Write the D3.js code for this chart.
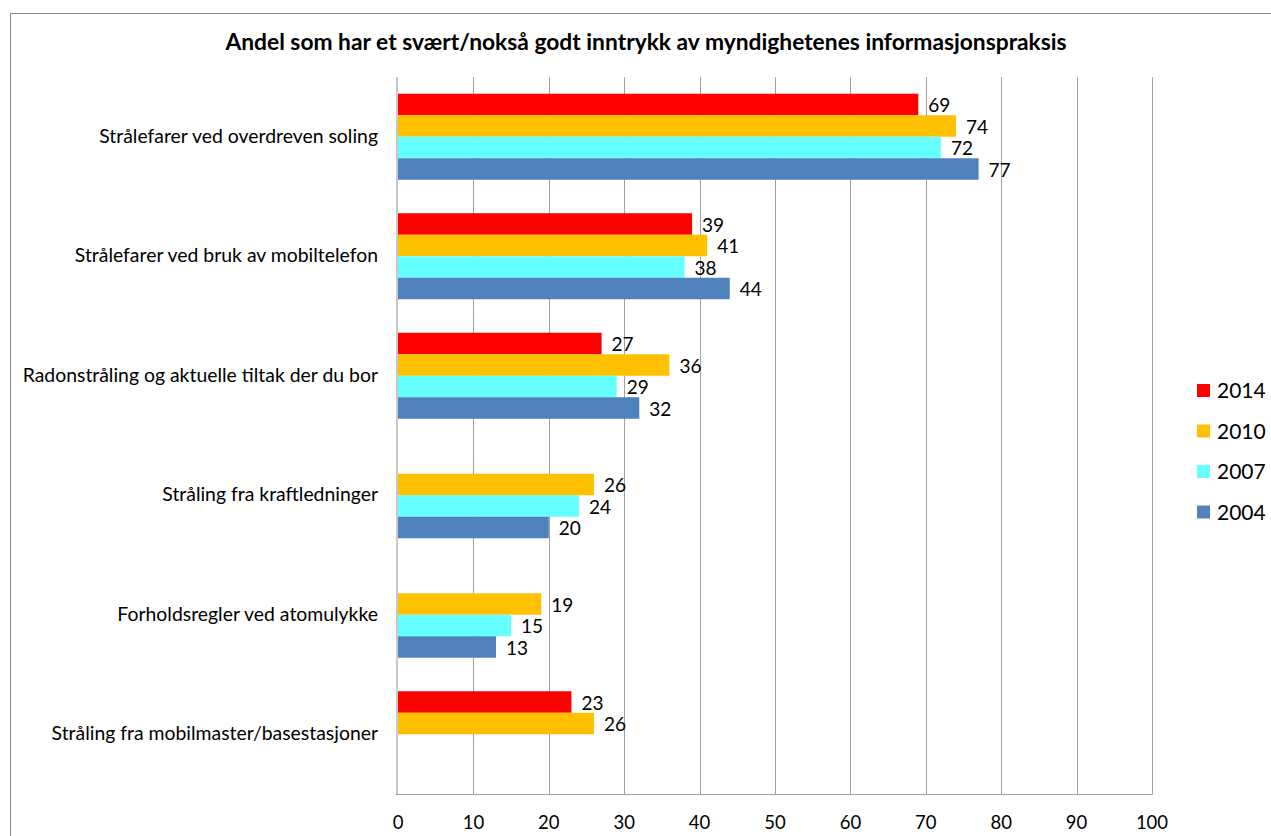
<!DOCTYPE html>
<html lang="no">
<head>
    <meta charset="utf-8">
    <title>Andel som har et svært/nokså godt inntrykk</title>
    <script src="https://d3js.org/d3.v7.min.js"></script>
    <style>
        body { margin: 0; background: #fff; }
        text { font-family: Lato, "Open Sans", sans-serif; fill: #000; }
        .title { font-weight: bold; font-size: 22.8px; }
        .cat { font-size: 19.4px; }
        .val { font-size: 19px; }
        .tick-label { font-size: 18.5px; }
        .legend text { font-size: 21px; }
    </style>
</head>
<body>
<script>
    // categories, top to bottom
    var categories = [
        "Strålefarer ved overdreven soling",
        "Strålefarer ved bruk av mobiltelefon",
        "Radonstråling og aktuelle tiltak der du bor",
        "Stråling fra kraftledninger",
        "Forholdsregler ved atomulykke",
        "Stråling fra mobilmaster/basestasjoner"
    ];
    var years = ["2014", "2010", "2007", "2004"];
    var colors = ["#ff0000", "#ffc000", "#66ffff", "#4f81bd"];

    // values per year (null = no bar)
    var v2014 = [69, 39, 27, null, null, 23];
    var v2010 = [74, 41, 36, 26, 19, 26];
    var v2007 = [72, 38, 29, 24, 15, null];
    var v2004 = [77, 44, 32, 20, 13, null];
    var series = [v2014, v2010, v2007, v2004];

    var xTicks = [0, 10, 20, 30, 40, 50, 60, 70, 80, 90, 100];

    var width = 1271, height = 836;
    var plotLeft = 398, plotRight = 1152, plotTop = 77, plotBottom = 794;

    var svg = d3.select("body").append("svg")
        .attr("width", width)
        .attr("height", height);

    // chart border (runs off the right and bottom edges)
    svg.append("rect")
        .attr("x", 10.5).attr("y", 13.5)
        .attr("width", 1300).attr("height", 900)
        .attr("fill", "none")
        .attr("stroke", "#888");

    svg.append("text")
        .attr("class", "title")
        .attr("x", 646).attr("y", 50)
        .attr("text-anchor", "middle")
        .text("Andel som har et svært/nokså godt inntrykk av myndighetenes informasjonspraksis");

    var x = d3.scaleLinear().domain([0, 100]).range([plotLeft, plotRight]);
    var y = d3.scaleBand().domain(categories).range([plotTop, plotBottom]);
    var barH = 21.5;
    var groupOffset = (y.bandwidth() - barH * 4) / 2;

    // gridlines
    svg.append("g").selectAll("line")
        .data(xTicks.slice(1))
        .enter().append("line")
        .attr("x1", d => Math.round(x(d)) + 0.5).attr("x2", d => Math.round(x(d)) + 0.5)
        .attr("y1", plotTop).attr("y2", plotBottom)
        .attr("stroke", "#a0a0a0");

    // left axis line
    svg.append("line")
        .attr("x1", plotLeft - 1).attr("x2", plotLeft - 1)
        .attr("y1", plotTop).attr("y2", plotBottom)
        .attr("stroke", "#c8c8c8").attr("stroke-width", 2);

    // bottom axis line
    svg.append("line")
        .attr("x1", plotLeft - 2).attr("x2", Math.round(plotRight) + 1)
        .attr("y1", plotBottom + 0.5).attr("y2", plotBottom + 0.5)
        .attr("stroke", "#a0a0a0");

    svg.append("g").selectAll("text")
        .data(xTicks)
        .enter().append("text")
        .attr("class", "tick-label")
        .attr("x", d => x(d))
        .attr("y", 829)
        .attr("text-anchor", "middle")
        .text(d => d);

    // category labels
    svg.append("g").selectAll("text")
        .data(categories)
        .enter().append("text")
        .attr("class", "cat")
        .attr("x", 378)
        .attr("y", d => y(d) + y.bandwidth() / 2 + 6)
        .attr("text-anchor", "end")
        .text(d => d);

    // bars
    var bars = [];
    series.forEach(function(vals, si) {
        vals.forEach(function(v, ci) {
            if (v !== null) bars.push({ cat: categories[ci], year: years[si], value: v, color: colors[si], si: si });
        });
    });

    var barG = svg.append("g");
    barG.selectAll("rect")
        .data(bars)
        .enter().append("rect")
        .attr("x", x(0))
        .attr("y", d => y(d.cat) + groupOffset + d.si * barH)
        .attr("width", d => x(d.value) - x(0))
        .attr("height", barH)
        .attr("fill", d => d.color);

    barG.selectAll("text")
        .data(bars)
        .enter().append("text")
        .attr("class", "val")
        .attr("x", d => x(d.value) + 10)
        .attr("y", d => y(d.cat) + groupOffset + d.si * barH + barH / 2 + 7.5)
        .text(d => d.value);

    // legend
    var legend = svg.append("g").attr("class", "legend");
    var items = legend.selectAll("g")
        .data(years)
        .enter().append("g")
        .attr("transform", (d, i) => "translate(1197," + (384 + i * 40.5) + ")");
    items.append("rect")
        .attr("width", 13).attr("height", 13)
        .attr("fill", (d, i) => colors[i]);
    items.append("text")
        .attr("x", 20).attr("y", 14)
        .text(d => d);
</script>
</body>
</html>
